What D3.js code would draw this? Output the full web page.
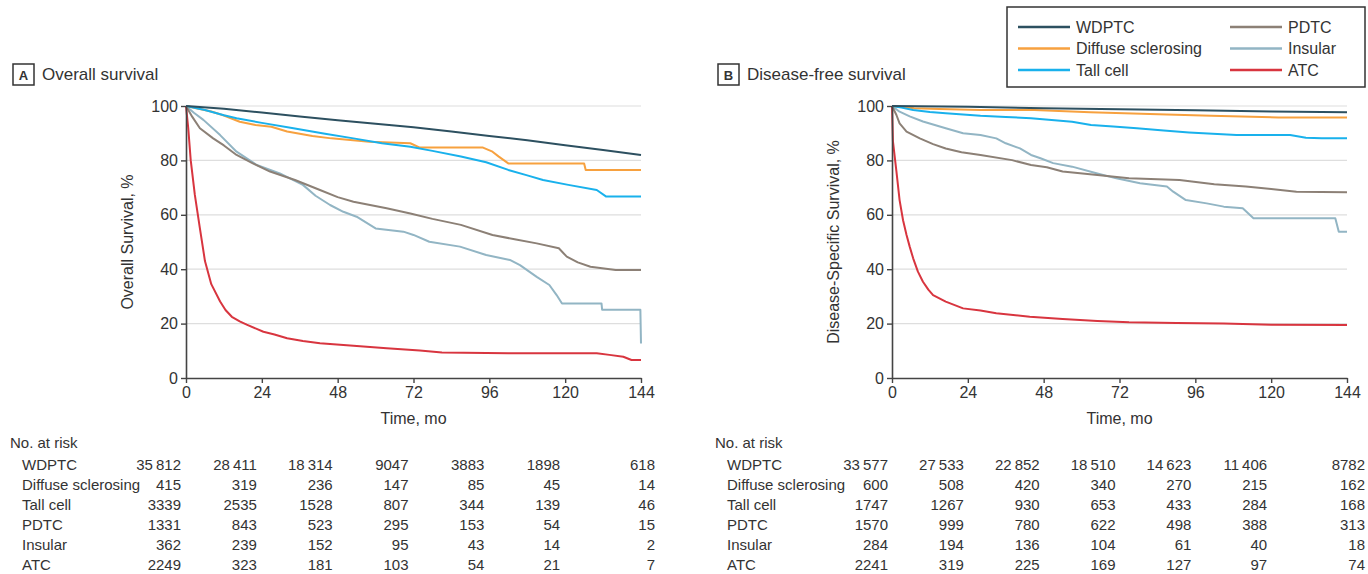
<!DOCTYPE html>
<html>
<head>
<meta charset="utf-8">
<script src="https://cdn.jsdelivr.net/npm/d3@7"></script>
<style>
  body { margin: 0; background: #fff; }
  svg text { font-family: "Liberation Sans", Arial, sans-serif; fill: #333; }
</style>
</head>
<body>
<div id="chart"></div>
<script>
// Groups, in legend / table order
const groups = ["WDPTC", "Diffuse sclerosing", "Tall cell", "PDTC", "Insular", "ATC"];
const groupColors = ["#2d5060", "#f7a13f", "#19b1ec", "#8c8076", "#92b5c4", "#d8353f"];

const timeTicks = [0, 24, 48, 72, 96, 120, 144];
const survTicks = [0, 20, 40, 60, 80, 100];

// Panel A: overall survival, [month, %]
const osWdptc = [[0,100],[12,99],[24,97.6],[36,96.1],[48,94.8],[60,93.5],[72,92.2],[84,90.6],[96,89],[108,87.4],[120,85.6],[132,83.8],[144,82]];
const osDiffuse = [[0,100],[4,99],[8,98],[12,96.5],[17,94.2],[22,93],[27,92.4],[32,90.6],[40,89],[46,88.1],[58,86.9],[71,86.3],[74,84.7],[94,84.7],[97,83.2],[99,81.4],[102,78.9],[126,78.9],[126.5,76.5],[144,76.5]];
const osTall = [[0,100],[6,98.5],[12,96.6],[16,95.5],[24,93.8],[34,91.8],[44,89.8],[53,88.1],[62,86.3],[71,85],[78,83.5],[87,81.4],[95,79.3],[102,76.5],[108,74.5],[113,72.8],[121,71],[130,69.1],[133,66.7],[144,66.7]];
const osPdtc = [[0,100],[2,96],[4.4,91.8],[8.6,88.1],[12,85.5],[16,82],[21,79],[26.6,75.9],[34.5,72.8],[42.4,69.1],[48,66.5],[53,64.8],[63.5,62.4],[71,60.5],[78,58.5],[87,56.3],[97,52.6],[104,51],[111,49.5],[118,47.7],[120.5,44.6],[124,42.5],[128,40.9],[136,39.7],[144,39.7]];
const osInsular = [[0,100],[2.5,97.5],[5.5,94.9],[10.8,89.3],[16,83.2],[22.4,78.3],[29.7,75.2],[37,71],[41,67],[45.6,63.6],[49.8,61.1],[54,59.3],[60,55],[68.8,53.8],[72,52.6],[77,50.1],[86.7,48.3],[95,45.2],[102.5,43.4],[105.7,41.5],[111,37.2],[115,34.2],[117.3,30.5],[119,27.4],[131.5,27.4],[131.7,25.1],[143.8,25.1],[144,12.7]];
const osAtc = [[0,100],[0.7,92],[1.5,80],[2.8,67.3],[4.4,55],[6,43],[8,34.5],[10.8,28.1],[12.5,25],[14.5,22.5],[17,20.8],[19.2,19.6],[24.5,17],[28,16],[32,14.6],[37,13.6],[42.4,12.8],[53,11.9],[63.5,10.9],[74,10.1],[81,9.4],[102,9.1],[130,9.1],[134,8.5],[138.4,7.8],[141,6.6],[144,6.6]];

// Panel B: disease-specific survival, [month, %]
const dssWdptc = [[0,100],[24,99.7],[48,99.2],[72,98.8],[96,98.4],[120,98],[144,97.7]];
const dssDiffuse = [[0,100],[3,99.6],[7,99.2],[15,98.9],[28,98.5],[45,98.5],[62.7,97.7],[87,96.9],[101,96.4],[122.3,95.8],[144,95.8]];
const dssTall = [[0,100],[3,99.4],[6.7,98.5],[12,97.8],[17,97.3],[28,96.4],[36,96],[44,95.5],[57,94.2],[63,93],[70,92.5],[77.5,91.8],[86,91],[94,90.3],[109,89.3],[126,89.3],[131,88.3],[136,88.1],[144,88.1]];
const dssPdtc = [[0,100],[1.4,96.7],[2.4,93.6],[4.6,90.6],[8.8,88.1],[13,86],[17,84.4],[22,83],[28,82],[38,80.1],[44,78.3],[49,77.5],[54,75.9],[65,74.6],[75,73.4],[91,72.8],[102,71.2],[112,70.4],[120,69.5],[128,68.5],[144,68.3]];
const dssInsular = [[0,100],[2.4,97.9],[5.6,96.2],[9.8,94.3],[17,91.8],[22.5,90],[28,89.3],[33,88.1],[36,86.3],[40.5,84.4],[44,82],[47,80.8],[51,79],[57,77.7],[65,75.2],[71,73.4],[78.5,71.6],[87,70.4],[89,68.5],[93,65.4],[99.6,64.2],[105,63],[111,62.4],[114.4,58.7],[140.3,58.7],[141.4,53.8],[144,53.8]];
const dssAtc = [[0,100],[0.3,87],[1.4,76],[2.4,65.4],[3.5,58],[4.6,52.6],[5.6,48.3],[6.7,44],[8.2,39.1],[9.8,35.4],[11.5,32.5],[13,30.5],[17,28.1],[22.5,25.6],[28,24.8],[33,23.8],[43.6,22.5],[54,21.7],[65,21],[75,20.5],[90,20.2],[105,20],[120,19.6],[144,19.5]];

// No. at risk at 0, 24, ... 144 months
const osRisk = [
  [35812, 28411, 18314, 9047, 3883, 1898, 618],
  [415, 319, 236, 147, 85, 45, 14],
  [3339, 2535, 1528, 807, 344, 139, 46],
  [1331, 843, 523, 295, 153, 54, 15],
  [362, 239, 152, 95, 43, 14, 2],
  [2249, 323, 181, 103, 54, 21, 7]
];
const dssRisk = [
  [33577, 27533, 22852, 18510, 14623, 11406, 8782],
  [600, 508, 420, 340, 270, 215, 162],
  [1747, 1267, 930, 653, 433, 284, 168],
  [1570, 999, 780, 622, 498, 388, 313],
  [284, 194, 136, 104, 61, 40, 18],
  [2241, 319, 225, 169, 127, 97, 74]
];

const width = 1368, height = 574;
const svg = d3.select("#chart").append("svg")
  .attr("width", width)
  .attr("height", height);

const fmt = n => n >= 10000 ? String(n).replace(/(\d{3})$/, "\u2009$1") : String(n);

const drawPanel = (cfg) => {
  const x = d3.scaleLinear().domain([0, 144]).range([cfg.left, cfg.right]);
  const y = d3.scaleLinear().domain([0, 100]).range([378, 106]);
  const g = svg.append("g");

  // panel letter + title
  g.append("rect")
    .attr("x", cfg.boxX).attr("y", 64).attr("width", 21).attr("height", 21)
    .attr("fill", "none").attr("stroke", "#333").attr("stroke-width", 1.5);
  g.append("text")
    .attr("x", cfg.boxX + 10.5).attr("y", 80)
    .attr("text-anchor", "middle")
    .style("font-size", "13px").style("font-weight", "bold")
    .text(cfg.letter);
  g.append("text")
    .attr("x", cfg.boxX + 29).attr("y", 80)
    .style("font-size", "17px")
    .text(cfg.title);

  // grid
  g.append("g").selectAll("line")
    .data(survTicks.filter(d => d > 0))
    .enter().append("line")
    .attr("x1", x(0)).attr("x2", x(144))
    .attr("y1", d => y(d)).attr("y2", d => y(d))
    .attr("stroke", "#dedede").attr("stroke-width", 1.2);

  // curves
  const line = d3.line().x(d => x(d[0])).y(d => y(d[1]));
  const order = [4, 3, 5, 1, 2, 0];
  g.append("g").selectAll("path")
    .data(order)
    .enter().append("path")
    .attr("d", i => line(cfg.series[i]))
    .attr("fill", "none")
    .attr("stroke", i => groupColors[i])
    .attr("stroke-width", 2)
    .attr("stroke-linejoin", "round");

  // axes
  const xAxis = g.append("g")
    .attr("transform", "translate(0," + y(0) + ")")
    .call(d3.axisBottom(x).tickValues(timeTicks).tickSize(5).tickSizeOuter(0).tickPadding(4));
  const yAxis = g.append("g")
    .attr("transform", "translate(" + x(0) + ",0)")
    .call(d3.axisLeft(y).tickValues(survTicks).tickSize(5).tickSizeOuter(0).tickPadding(3));
  [xAxis, yAxis].forEach(a => {
    a.select(".domain").attr("stroke", "#444").attr("stroke-width", 1.6);
    a.selectAll(".tick line").attr("stroke", "#444").attr("stroke-width", 1.4);
    a.selectAll(".tick text").style("font-size", "16px").attr("fill", "#333");
  });

  // axis titles
  g.append("text")
    .attr("x", (x(0) + x(144)) / 2).attr("y", 424)
    .attr("text-anchor", "middle")
    .style("font-size", "16px")
    .text("Time, mo");
  g.append("text")
    .attr("transform", "translate(" + cfg.yTitleX + "," + y(50) + ") rotate(-90)")
    .attr("text-anchor", "middle")
    .style("font-size", "16px")
    .text(cfg.yTitle);

  // number at risk
  g.append("text")
    .attr("x", cfg.riskX).attr("y", 448)
    .style("font-size", "15px")
    .text("No. at risk");
  const rows = g.append("g").selectAll("g")
    .data(cfg.risk)
    .enter().append("g")
    .attr("transform", (d, i) => "translate(0," + (470 + i * 20) + ")");
  rows.append("text")
    .attr("x", cfg.riskX + 12)
    .style("font-size", "15px")
    .text((d, i) => groups[i]);
  rows.selectAll("text.v")
    .data(d => d)
    .enter().append("text")
    .attr("class", "v")
    .attr("x", (d, j) => timeTicks[j] === 144 ? x(144) + cfg.lastOff : x(timeTicks[j]) + cfg.colOff)
    .attr("text-anchor", "end")
    .style("font-size", "15px")
    .text(d => fmt(d));
};

drawPanel({
  left: 186, right: 641, boxX: 13, letter: "A", title: "Overall survival",
  yTitle: "Overall Survival, %", yTitleX: 133, riskX: 10,
  series: [osWdptc, osDiffuse, osTall, osPdtc, osInsular, osAtc],
  risk: osRisk, colOff: -5, lastOff: 14
});
drawPanel({
  left: 892, right: 1347, boxX: 718, letter: "B", title: "Disease-free survival",
  yTitle: "Disease-Specific Survival, %", yTitleX: 839, riskX: 715,
  series: [dssWdptc, dssDiffuse, dssTall, dssPdtc, dssInsular, dssAtc],
  risk: dssRisk, colOff: -4, lastOff: 18
});

// legend
const legend = svg.append("g");
legend.append("rect")
  .attr("x", 1007).attr("y", 7).attr("width", 358).attr("height", 80)
  .attr("fill", "#fff").attr("stroke", "#333").attr("stroke-width", 1.5);
const items = legend.selectAll("g.item")
  .data(groups)
  .enter().append("g")
  .attr("class", "item")
  .attr("transform", (d, i) => "translate(" + (i < 3 ? 1018 : 1230) + "," + (27 + (i % 3) * 21.5) + ")");
items.append("line")
  .attr("x1", 0).attr("x2", 52)
  .attr("stroke", (d, i) => groupColors[i])
  .attr("stroke-width", 2.5);
items.append("text")
  .attr("x", 58).attr("y", 5.5)
  .style("font-size", "16px")
  .text(d => d);
</script>
</body>
</html>
